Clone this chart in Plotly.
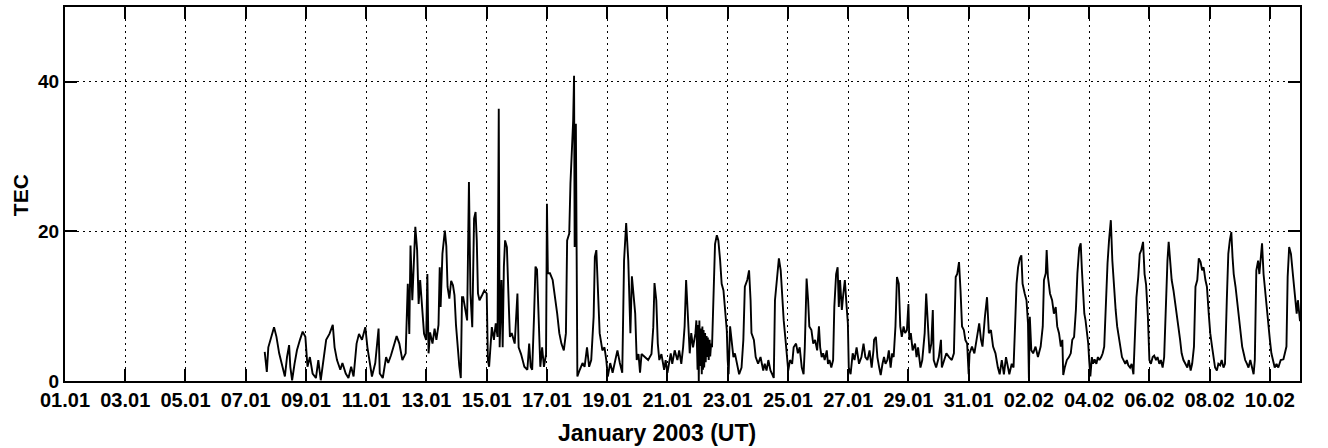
import pandas as pd
import plotly.graph_objects as go

# Time in days since 2003-01-01 00:00 UT, and TEC values
DAYS = [
    6.63, 6.70, 6.75, 6.86, 6.94, 7.02, 7.11, 7.22, 7.30, 7.37, 7.44, 7.48, 7.54, 7.62, 7.70, 7.80, 7.89, 7.98,
    8.05, 8.13, 8.22, 8.33, 8.41, 8.49, 8.60, 8.67, 8.78, 8.89, 8.95, 9.03, 9.14, 9.21, 9.32, 9.41, 9.50, 9.58,
    9.68, 9.76, 9.86, 9.97, 10.04, 10.11, 10.19, 10.30, 10.41, 10.45, 10.55, 10.66, 10.73, 10.82, 10.91, 11.01,
    11.10, 11.20, 11.31, 11.38, 11.43, 11.47, 11.53, 11.63, 11.69, 11.74, 11.79, 11.85, 11.92, 11.99,
    12.03, 12.07, 12.12, 12.20, 12.27, 12.33, 12.40, 12.44, 12.47, 12.53, 12.57, 12.61, 12.66, 12.70, 12.76,
    12.82, 12.88, 12.93, 12.98, 13.04, 13.09, 13.14, 13.18,
    13.22, 13.35, 13.41, 13.46, 13.52, 13.58, 13.63, 13.67, 13.71, 13.76, 13.85, 13.92, 14.00, 14.04, 14.08,
    14.17, 14.24, 14.30, 14.36, 14.40, 14.43, 14.49, 14.53, 14.57, 14.61, 14.67, 14.72, 14.77, 14.83, 14.93,
    15.02, 15.06, 15.14, 15.25, 15.35, 15.41, 15.46, 15.51, 15.57, 15.62, 15.67, 15.72, 15.78, 15.84, 15.90,
    15.97, 16.00, 16.03, 16.10, 16.19, 16.26, 16.34, 16.41, 16.48, 16.56, 16.63, 16.67, 16.74, 16.78, 16.82,
    16.87, 16.90, 16.92, 16.96, 16.98, 17.01, 17.09, 17.18, 17.25, 17.33, 17.40, 17.47, 17.55, 17.59, 17.64,
    17.69, 17.75, 17.84, 17.91, 17.97, 18.02, 18.10, 18.18, 18.27, 18.34, 18.42, 18.50, 18.56, 18.63, 18.70,
    18.77, 18.82, 18.88, 18.93, 18.98, 19.04, 19.09, 19.14, 19.25, 19.36, 19.47, 19.53, 19.57, 19.63, 19.68,
    19.73, 19.80, 19.89, 19.94, 20.00,
    20.11, 20.16, 20.24, 20.33, 20.39, 20.46, 20.52, 20.57, 20.62, 20.66, 20.70, 20.74, 20.79, 20.85, 20.93,
    20.96, 21.00, 21.02, 21.04, 21.06, 21.09, 21.11, 21.14, 21.16, 21.18, 21.20, 21.22, 21.25, 21.27, 21.30,
    21.31, 21.34, 21.37, 21.40, 21.42, 21.45, 21.48, 21.53, 21.58, 21.64, 21.69, 21.75, 21.80, 21.86, 21.91,
    21.97, 22.00, 22.03, 22.08, 22.13, 22.19, 22.24, 22.32, 22.38, 22.46, 22.52, 22.57, 22.65, 22.71, 22.76,
    22.79, 22.87, 22.93, 23.01, 23.09, 23.18, 23.23, 23.29, 23.35, 23.42, 23.48, 23.53, 23.57, 23.64, 23.70,
    23.76, 23.81, 23.86, 23.92, 23.97, 24.01, 24.07, 24.14, 24.19, 24.27, 24.33, 24.39, 24.46, 24.52, 24.56,
    24.62, 24.67, 24.71, 24.78, 24.84, 24.90, 24.97, 25.03, 25.07, 25.12, 25.17, 25.22, 25.29, 25.33, 25.38,
    25.44, 25.50, 25.54, 25.60, 25.65, 25.69, 25.73, 25.79, 25.84, 25.89, 25.95, 25.99, 26.02, 26.08, 26.15,
    26.21, 26.28, 26.36, 26.44, 26.51, 26.57, 26.64, 26.71, 26.78, 26.84,
    26.86, 26.92, 26.97, 27.03, 27.08, 27.14, 27.19, 27.24, 27.30, 27.35, 27.41, 27.46, 27.51, 27.57, 27.62,
    27.68, 27.73, 27.78, 27.84, 27.89, 27.95, 28.00, 28.03, 28.08, 28.14, 28.22, 28.27, 28.32, 28.40, 28.46,
    28.54, 28.59, 28.65, 28.70, 28.76, 28.81, 28.84, 28.92, 29.01, 29.08, 29.11, 29.19, 29.26, 29.35, 29.44,
    29.51, 29.57, 29.62, 29.68, 29.73, 29.78, 29.84, 29.89, 29.95, 30.00, 30.03, 30.11, 30.19, 30.27, 30.35,
    30.41, 30.46, 30.54, 30.61, 30.67, 30.74, 30.81, 30.89, 30.97, 31.03, 31.10, 31.17, 31.24, 31.30, 31.35,
    31.43, 31.49, 31.54, 31.59, 31.64, 31.70, 31.75, 31.79, 31.86, 31.92, 31.97, 32.00, 32.03, 32.08, 32.14,
    32.22, 32.30, 32.39, 32.46, 32.50, 32.56, 32.59, 32.63, 32.70, 32.77, 32.83, 32.89, 32.94, 33.00, 33.06,
    33.11, 33.14, 33.19, 33.26, 33.33, 33.39, 33.44, 33.50, 33.56, 33.61, 33.67, 33.72,
    33.76, 33.80, 33.84, 33.88, 33.93, 33.97, 34.00, 34.04, 34.09, 34.13, 34.18, 34.24, 34.29, 34.34, 34.40,
    34.45, 34.50, 34.56, 34.61, 34.66, 34.72, 34.77, 34.82, 34.88, 34.93, 34.98, 35.04, 35.09, 35.14, 35.20,
    35.25, 35.30, 35.36, 35.41, 35.47, 35.52, 35.57, 35.63, 35.68, 35.73, 35.79, 35.84, 35.89, 35.95, 36.00,
    36.05, 36.11, 36.16, 36.22, 36.27, 36.33, 36.38, 36.44, 36.49, 36.55, 36.60, 36.64, 36.69, 36.74, 36.80,
    36.85, 36.91, 36.96, 37.02, 37.07, 37.13, 37.20, 37.26, 37.31, 37.37, 37.42, 37.48, 37.53, 37.59, 37.64,
    37.70, 37.75, 37.80, 37.86, 37.91, 37.97, 38.02, 38.08, 38.13, 38.18, 38.24, 38.29, 38.35, 38.40, 38.46,
    38.51, 38.57, 38.62, 38.67, 38.72, 38.76, 38.80, 38.86, 38.91, 38.97, 39.02, 39.08, 39.13, 39.18, 39.24,
    39.29, 39.35, 39.40, 39.46, 39.50, 39.55, 39.61, 39.65, 39.71, 39.74, 39.79, 39.85, 39.90, 39.95, 40.00,
    40.05, 40.11, 40.16, 40.22, 40.28, 40.36, 40.45, 40.55, 40.59, 40.64, 40.70, 40.77, 40.84, 40.89, 40.93,
    40.98, 41.00,
]

TEC = [
    3.9, 1.2, 4.5, 6.3, 7.2, 5.9, 3.7, 1.9, 0.6, 3.2, 4.8, 1.9, 0.1, 2.3, 4.1, 5.5, 6.6, 5.9,
    1.9, 3.2, 1.0, 0.4, 2.8, 0.1, 3.2, 5.5, 6.3, 7.5, 4.5, 2.8, 1.5, 2.4, 1.0, 0.4, 1.9, 0.6,
    5.0, 6.3, 5.5, 7.2, 4.5, 2.4, 0.6, 2.4, 7.0, 1.0, 0.4, 3.2, 2.4, 3.4, 4.5, 6.0,
    5.0, 2.8, 3.7, 13.0, 6.3, 18.1, 10.8, 20.6, 17.5, 10.3, 13.5, 9.5, 6.3, 5.5,
    14.3, 3.7, 6.5, 5.0, 7.0, 5.5, 7.5, 15.2, 9.9, 17.0, 18.3, 20.1, 18.0, 12.6, 11.0,
    13.4, 12.8, 11.5, 7.5, 4.0, 2.0, 0.4, 11.2,
    11.2, 8.1, 26.6, 11.7, 7.2, 21.7, 22.6, 18.8, 11.7, 10.8, 11.5, 12.1, 11.7, 2.8, 1.9,
    7.2, 5.5, 7.7, 5.9, 36.4, 4.5, 13.5, 4.5, 15.3, 18.8, 17.9, 11.7, 5.9, 6.4, 5.0,
    11.7, 4.5, 3.6, 1.9, 1.5, 5.0, 1.9, 1.5, 8.5, 15.3, 14.9, 8.5, 1.9, 4.5, 1.9,
    3.6, 23.7, 14.4, 14.4, 13.5, 11.7, 9.0, 6.4, 5.0, 4.1, 6.4, 18.8, 19.7, 26.4, 29.9,
    34.8, 40.8, 17.9, 34.4, 12.6, 0.6, 1.5, 2.4, 1.9, 4.5, 1.9, 2.8, 8.6, 16.6, 17.5,
    11.7, 6.4, 4.1, 4.5, 2.8, 0.6, 2.4, 1.1, 2.8, 4.1, 2.4, 1.1, 16.1, 21.1, 16.1,
    6.4, 14.0, 11.7, 9.0, 2.8, 3.6, 1.1, 3.6, 3.2, 2.8, 3.6, 7.2, 13.1, 10.8, 5.0,
    2.8, 3.6, 1.5, 2.8, 1.1,
    3.7, 2.3, 4.1, 2.8, 4.1, 2.3, 4.5, 7.3, 13.5, 10.3, 5.5, 3.7, 6.4, 4.5, 6.4,
    8.1, 1.5, 7.5, 0.0, 8.1, 2.0, 7.0, 0.9, 7.3, 1.5, 6.8, 1.8, 6.4, 2.5, 6.0,
    3.2, 5.8, 2.8, 5.5, 3.3, 5.0, 4.5, 10.3, 18.3, 19.5, 18.8, 16.1, 13.0, 12.1, 9.9,
    6.8, 2.8, 0.9, 7.3, 5.5, 3.2, 3.7, 1.8, 0.9, 1.8, 5.5, 12.6, 13.5, 14.8, 10.8,
    6.4, 5.5, 3.2, 2.3, 3.2, 1.4, 2.3, 1.4, 2.8, 1.4, 0.9, 0.4, 10.8, 14.3, 16.4,
    14.8, 10.8, 8.1, 5.5, 3.2, 1.4, 2.8, 2.3, 4.5, 5.0, 3.7, 4.5, 1.8, 0.9, 4.5,
    13.7, 10.8, 7.3, 6.8, 5.0, 5.5, 4.1, 7.3, 4.5, 3.2, 3.7, 2.8, 4.1, 2.3, 2.8,
    1.8, 2.8, 9.9, 14.3, 15.2, 9.9, 13.5, 9.5, 11.7, 13.5, 9.9, 7.7, 1.8, 0.9, 3.7,
    2.8, 4.5, 2.3, 3.2, 5.0, 3.2, 2.8, 4.1, 1.8, 4.1,
    5.5, 5.9, 3.2, 1.8, 0.8, 2.3, 3.2, 2.3, 2.8, 4.1, 1.8, 3.7, 3.2, 7.3, 13.9,
    13.0, 7.3, 5.9, 7.3, 6.4, 6.8, 10.3, 5.5, 6.4, 4.1, 5.0, 3.2, 4.5, 1.8, 2.8,
    6.4, 11.7, 6.4, 3.7, 5.0, 9.5, 2.8, 1.8, 3.2, 5.5, 1.8, 2.8, 3.7, 3.2, 2.8,
    3.7, 13.9, 14.3, 15.9, 12.1, 7.3, 6.8, 5.5, 5.0, 0.9, 3.7, 4.6, 3.7, 5.5, 7.7,
    5.5, 4.6, 8.6, 11.2, 6.4, 6.8, 4.6, 3.7, 1.8, 0.9, 2.8, 0.9, 3.2, 1.8, 0.9,
    2.3, 1.8, 7.3, 13.0, 15.2, 16.4, 16.8, 13.0, 11.7, 10.8, 7.7, 0.4, 8.6, 4.1, 3.7,
    4.6, 3.2, 4.6, 7.3, 13.5, 14.4, 17.5, 14.0, 11.7, 10.8, 9.0, 9.9, 7.3, 6.4, 4.6,
    5.5, 0.8, 1.8, 2.8, 3.2, 3.7, 5.5, 5.9, 9.5, 14.4, 17.8, 18.4,
    14.8, 11.7, 9.0, 8.1, 6.4, 5.0, 2.8, 0.6, 3.2, 2.3, 2.9, 2.3, 3.2, 2.8, 3.2,
    3.7, 4.6, 12.1, 15.7, 18.8, 21.5, 16.1, 12.6, 9.5, 7.3, 5.9, 4.6, 3.2, 2.8, 2.3,
    2.8, 2.1, 1.8, 2.3, 0.9, 5.5, 11.2, 13.9, 17.0, 17.5, 18.6, 14.3, 12.9, 8.6, 2.8,
    2.3, 3.2, 3.4, 2.8, 3.2, 2.3, 2.8, 1.8, 3.2, 10.8, 16.1, 18.6, 15.7, 13.5, 12.1,
    10.8, 9.0, 7.3, 5.5, 3.7, 2.8, 2.3, 1.8, 2.8, 1.4, 2.3, 4.6, 12.6, 13.5, 16.4,
    15.9, 14.8, 15.2, 13.5, 12.6, 9.0, 6.4, 4.6, 2.8, 1.8, 1.4, 2.3, 2.1, 2.8, 1.8,
    2.3, 10.8, 17.0, 18.8, 19.9, 16.6, 14.3, 12.6, 10.8, 9.0, 6.4, 4.6, 3.7, 2.8, 2.3,
    1.8, 2.8, 1.8, 0.9, 2.8, 14.8, 16.1, 14.3, 17.0, 18.4, 14.3, 11.7, 9.0, 7.3, 5.5,
    3.7, 2.8, 1.8, 2.3, 1.8, 2.8, 2.9, 4.6, 13.9, 17.9, 17.0, 14.0, 10.8, 9.0, 10.8,
    8.1, 8.0,
]

START = "2003-01-01"
END = "2003-02-11"
Y_TICKS = [0, 20, 40]
X_TITLE = "January 2003 (UT)"
Y_TITLE = "TEC"

x = pd.Timestamp(START) + pd.to_timedelta(DAYS, unit="D")

FONT = "Liberation Sans"

fig = go.Figure(
    go.Scatter(
        x=x, y=TEC, mode="lines",
        line=dict(color="black", width=1.9),
        showlegend=False, hoverinfo="skip",
    )
)

axis_common = dict(
    showline=True, linecolor="black", linewidth=2, mirror="ticks",
    ticks="inside", ticklen=12, tickwidth=2, tickcolor="black",
    showgrid=True, gridcolor="black", gridwidth=1.3, griddash="2px,4px",
    zeroline=False,
)

fig.update_xaxes(
    type="date", range=[START, END], tick0=START, dtick=2 * 86400000,
    tickformat="%d.%m",
    tickfont=dict(family=FONT, size=20, color="black", weight="bold"),
    **axis_common,
)
fig.update_yaxes(
    range=[0, 50], tickvals=Y_TICKS,
    tickfont=dict(family=FONT, size=19, color="black", weight="bold"),
    **axis_common,
)

fig.add_annotation(
    text=X_TITLE, xref="paper", yref="paper", x=0.479, y=-0.14,
    xanchor="center", yanchor="middle", showarrow=False,
    font=dict(family=FONT, size=23, color="black", weight="bold"),
)
fig.add_annotation(
    text=Y_TITLE, xref="paper", yref="paper", x=-0.0364, y=0.497,
    xanchor="center", yanchor="middle", showarrow=False, textangle=-90,
    font=dict(family=FONT, size=21, color="black", weight="bold"),
)

fig.update_layout(
    width=1328, height=448,
    margin=dict(l=65, r=28, t=5, b=67),
    paper_bgcolor="white", plot_bgcolor="white",
)

fig.write_html("out.html")
